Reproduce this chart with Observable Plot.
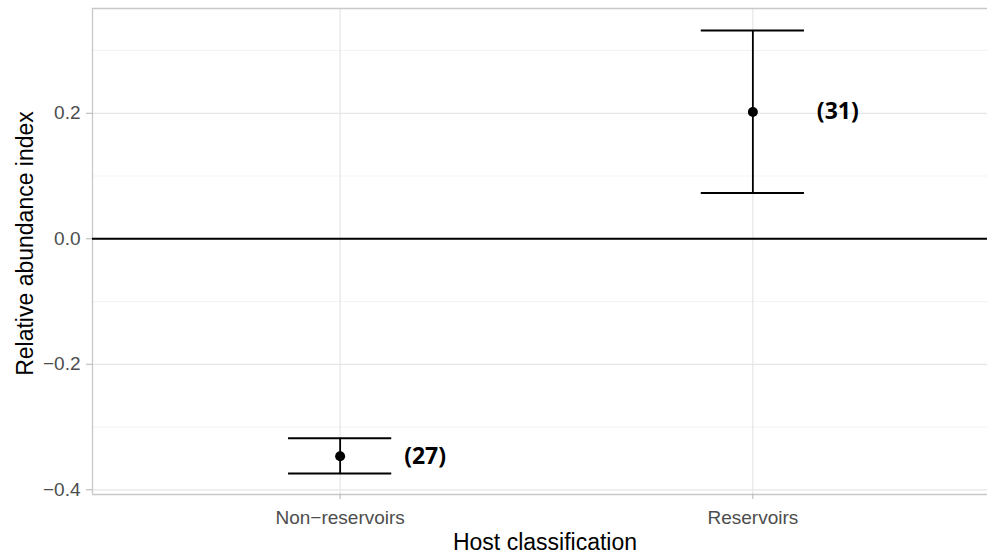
<!DOCTYPE html>
<html>
<head>
<meta charset="utf-8">
<script src="https://cdn.jsdelivr.net/npm/d3@7"></script>
<script src="https://cdn.jsdelivr.net/npm/@observablehq/plot@0.6"></script>
<style>
html, body { margin: 0; padding: 0; background: white; overflow: hidden; }
#chart svg { overflow: hidden; }
</style>
</head>
<body>
<div id="chart"></div>
<script>
const categories = ["Non-reservoirs", "Reservoirs"];
const tickLabels = ["Non\u2212reservoirs", "Reservoirs"];
const means = [-0.3465, 0.202];
const lowers = [-0.374, 0.073];
const uppers = [-0.318, 0.332];
const counts = ["(27)", "(31)"];
const yMajor = [-0.4, -0.2, 0.0, 0.2];
const yMinor = [-0.3, -0.1, 0.1, 0.3];

const data = categories.map((c, i) => ({
  pos: i + 1, cat: c, mean: means[i], lo: lowers[i], hi: uppers[i], n: counts[i]
}));
const halfW = 0.125;
const yDomain = [-0.4075, 0.367];
const xDomain = [0.4, 2.6];

const chart = Plot.plot({
  width: 987,
  height: 554,
  marginLeft: 92,
  marginRight: 0,
  marginTop: 8,
  marginBottom: 60,
  style: { fontFamily: "'Liberation Sans', Arial, sans-serif", background: "white" },
  x: { domain: xDomain, range: [92, 1000], axis: null },
  y: { domain: yDomain, axis: null },
  marks: [
    Plot.ruleY(yMinor, { stroke: "#f3f3f3", strokeWidth: 1 }),
    Plot.ruleY(yMajor, { stroke: "#e6e6e6", strokeWidth: 1.2 }),
    Plot.ruleX(data, { x: "pos", stroke: "#e6e6e6", strokeWidth: 1.2 }),
    // panel border (left, top, bottom; right edge lies beyond the image)
    Plot.ruleX([xDomain[0]], { stroke: "#c8c8c8", strokeWidth: 1.3 }),
    Plot.ruleY([yDomain[0], yDomain[1]], { stroke: "#c8c8c8", strokeWidth: 1.3 }),
    Plot.ruleY([0], { stroke: "black", strokeWidth: 2 }),
    Plot.ruleX(data, { x: "pos", y1: "lo", y2: "hi", stroke: "black", strokeWidth: 1.8 }),
    Plot.ruleY(data, { x1: d => d.pos - halfW, x2: d => d.pos + halfW, y: "hi", stroke: "black", strokeWidth: 2 }),
    Plot.ruleY(data, { x1: d => d.pos - halfW, x2: d => d.pos + halfW, y: "lo", stroke: "black", strokeWidth: 2 }),
    Plot.dot(data, { x: "pos", y: "mean", r: 5, fill: "black" }),
    Plot.text(data, { x: "pos", y: "mean", text: "n", dx: 64, textAnchor: "start",
      fontSize: 23, fontWeight: "bold", fill: "black", fontFamily: "'Open Sans', sans-serif",
      letterSpacing: "0.5px" }),
    Plot.axisY({ ticks: yMajor, tickFormat: d3.format(".1f"), tickSize: 6, tickPadding: 6,
      fontSize: 19, stroke: "#b3b3b3", fill: "#4d4d4d", label: null }),
    Plot.axisX({ ticks: [1, 2], tickFormat: d => tickLabels[d - 1], tickSize: 5, tickPadding: 11,
      fontSize: 19, stroke: "#b3b3b3", fill: "#4d4d4d", label: null }),
    Plot.text(["Relative abundance index"], { frameAnchor: "left", dx: -67, dy: -8, rotate: -90,
      fontSize: 23, fill: "black", textAnchor: "middle", lineAnchor: "middle" }),
    Plot.text(["Host classification"], { frameAnchor: "bottom", dx: 5, dy: 48,
      fontSize: 23, fill: "black", textAnchor: "middle", lineAnchor: "middle" })
  ]
});
document.getElementById("chart").appendChild(chart);
</script>
</body>
</html>
